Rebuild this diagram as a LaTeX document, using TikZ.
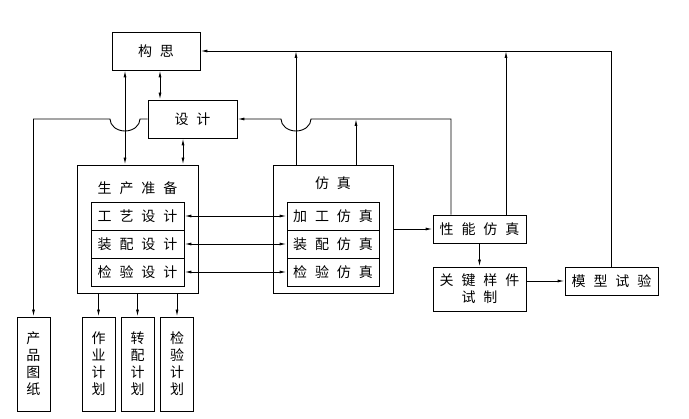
\documentclass[tikz,border=0pt]{standalone}
\usepackage{fontspec}
\newfontfamily\cjk{Noto Sans CJK SC}
\usetikzlibrary{arrows.meta}

\begin{document}
\begin{tikzpicture}[
    % 坐标按像素取 (y 向下)
    x=1pt, y=-1pt,
    line width=0.9pt,
    >={Latex[length=7pt,width=3pt]},
    % 方框: 黑边, 字间留空
    every node/.style={draw, inner sep=0pt, font={\cjk\fontsize{14}{17}\selectfont\spaceskip=.57em\relax}},
    box/.style={minimum width=93pt, minimum height=28pt},
    bigbox/.style={minimum width=121pt, minimum height=128pt},
    vbox/.style={minimum width=33pt, minimum height=94pt, align=center},
    title/.style={draw=none}
]
    \useasboundingbox (0,0) rectangle (689,419);

    % 构思, 设计
    \node[minimum width=88pt, minimum height=38pt] (gousi) at (156,51) {构 思};
    \node[minimum width=89pt, minimum height=38pt] (sheji) at (192.5,119) {设 计};

    % 生产准备
    \node[bigbox] (scbox) at (137.5,229) {};
    \node[title] (sctitle) at (137.5,188) {生 产 准 备};
    \node[box] (gysj) at (137.5,216) {工 艺 设 计};
    \node[box] (zpsj) at (137.5,244) {装 配 设 计};
    \node[box] (jysj) at (137.5,272) {检 验 设 计};

    % 仿真
    \node[bigbox, minimum width=120pt] (fzbox) at (333,229) {};
    \node[title] (fztitle) at (333,183) {仿 真};
    \node[box, minimum width=92pt] (jgfz) at (333,216) {加 工 仿 真};
    \node[box, minimum width=92pt] (zpfz) at (333,244) {装 配 仿 真};
    \node[box, minimum width=92pt] (jyfz) at (333,272) {检 验 仿 真};

    % 右侧
    \node[box] (xnfz) at (479.5,229) {性 能 仿 真};
    \node[box, minimum height=44pt, align=center] (gjyj) at (479.5,289) {关 键 样 件\\试 制};
    \node[box] (mxsy) at (611.5,281) {模 型 试 验};

    % 下部
    \node[vbox] (cptz) at (33.5,364) {产\\品\\图\\纸};
    \node[vbox] (zyjh) at (98.5,364) {作\\业\\计\\划};
    \node[vbox] (zpjh) at (137.5,364) {转\\配\\计\\划};
    \node[vbox] (jyjh) at (177,364) {检\\验\\计\\划};

    % 跨线点
    \coordinate (jumpA) at (125,119);
    \coordinate (jumpB) at (296,119);

    % 连线
    \draw[<->] ([xshift=-31pt]gousi.south) -- ([xshift=-31pt]gousi.south |- scbox.north);
    \draw[<->] ([xshift=4pt]gousi.south) -- ([xshift=4pt]gousi.south |- sheji.north);
    \draw[<->] ([xshift=-9.5pt]sheji.south) -- ([xshift=-9.5pt]sheji.south |- scbox.north);

    \draw[<->] (gysj.east) -- (jgfz.west);
    \draw[<->] (zpsj.east) -- (zpfz.west);
    \draw[<->] (jysj.east) -- (jyfz.west);

    \draw[->] (fzbox.east |- xnfz.west) -- (xnfz.west);
    \draw[->] (xnfz.south) -- (gjyj.north);
    \draw[->] (mxsy.west -| gjyj.east) -- (mxsy.west);

    % 反馈
    \draw[->] (mxsy.north) |- (gousi.east);
    \draw[->] ([xshift=26.5pt]xnfz.north) -- ([xshift=26.5pt]xnfz.north |- gousi.east);
    \draw[->] ([xshift=-37pt]fzbox.north) -- ([xshift=-37pt]fzbox.north |- gousi.east);
    \draw[->] ([xshift=23pt]fzbox.north) -- ([xshift=23pt]fzbox.north |- sheji.east);
    \draw[->] ([xshift=-28.5pt]xnfz.north) |- ([xshift=15pt]jumpB)
        arc[start angle=0, end angle=-180, x radius=15pt, y radius=12pt] -- (sheji.east);
    \draw[->] (sheji.west) -- ([xshift=15pt]jumpA)
        arc[start angle=0, end angle=-180, x radius=15pt, y radius=12pt] -- (jumpA -| cptz.north) -- (cptz.north);

    \draw[->] (zyjh.north |- scbox.south) -- (zyjh.north);
    \draw[->] (zpjh.north |- scbox.south) -- (zpjh.north);
    \draw[->] (jyjh.north |- scbox.south) -- (jyjh.north);

\end{tikzpicture}
\end{document}
